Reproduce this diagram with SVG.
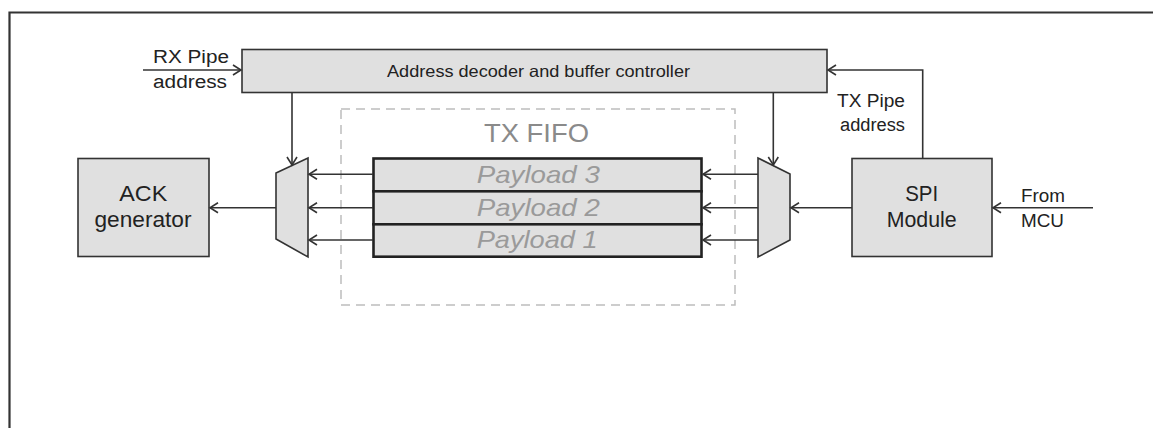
<svg xmlns="http://www.w3.org/2000/svg" width="1153" height="428" viewBox="0 0 1153 428">
<defs>
<style>
.box{fill:#e0e0e0;stroke:#333;stroke-width:1.6}
.pl{fill:#e0e0e0;stroke:#222;stroke-width:2.6}
.t{font-family:"Liberation Sans",Arial,sans-serif;fill:#222;text-anchor:middle}
.pt{font-family:"Liberation Sans",Arial,sans-serif;fill:#9a9a9a;font-style:italic;text-anchor:middle;font-size:24px}
.w{stroke:#333;stroke-width:1.6;fill:none}
</style>
<marker id="ah" markerUnits="userSpaceOnUse" markerWidth="14" markerHeight="14" refX="9" refY="6" orient="auto">
<path d="M1,1 L9,6 L1,11" fill="none" stroke="#333" stroke-width="1.6"/>
</marker>
</defs>
<rect width="1153" height="428" fill="#fff"/>
<g id="frame">
<path d="M9.5,428 V12.5 H1153" fill="none" stroke="#333" stroke-width="2.2"/>
</g>
<g id="tx-fifo">
<rect x="341" y="109" width="394" height="196" fill="none" stroke="#bdbdbd" stroke-width="1.5" stroke-dasharray="9,6"/>
<text class="t" x="536.5" y="141.7" font-size="25" fill="#8a8a8a" style="fill:#8a8a8a" textLength="105" lengthAdjust="spacingAndGlyphs">TX FIFO</text>
</g>
<g id="addr-decoder">
<rect class="box" x="242" y="49.5" width="585" height="43"/>
<text class="t" x="538.5" y="77" font-size="16.5" textLength="303" lengthAdjust="spacingAndGlyphs">Address decoder and buffer controller</text>
</g>
<g id="ack-generator">
<rect class="box" x="78" y="158.5" width="131" height="98"/>
<text class="t" x="143.3" y="201" font-size="22" textLength="48" lengthAdjust="spacingAndGlyphs">ACK</text>
<text class="t" x="143" y="226.5" font-size="22" textLength="97" lengthAdjust="spacingAndGlyphs">generator</text>
</g>
<g id="mux-left">
<polygon class="box" points="276,173 308,158 308,257 276,239"/>
</g>
<g id="mux-right">
<polygon class="box" points="758,158 790,174 790,240 758,257"/>
</g>
<g id="payload-3">
<rect class="pl" x="373.5" y="158.5" width="328" height="32.8"/>
<text class="pt" x="538.3" y="182.7" textLength="123" lengthAdjust="spacingAndGlyphs">Payload 3</text>
</g>
<g id="payload-2">
<rect class="pl" x="373.5" y="191.3" width="328" height="33"/>
<text class="pt" x="538.3" y="215.7" textLength="123" lengthAdjust="spacingAndGlyphs">Payload 2</text>
</g>
<g id="payload-1">
<rect class="pl" x="373.5" y="224.3" width="328" height="32.4"/>
<text class="pt" x="537.2" y="248.3" textLength="121" lengthAdjust="spacingAndGlyphs">Payload 1</text>
</g>
<g id="spi-module">
<rect class="box" x="852" y="158.5" width="140" height="98"/>
<text class="t" x="921.7" y="201" font-size="22" textLength="33" lengthAdjust="spacingAndGlyphs">SPI</text>
<text class="t" x="921.7" y="227" font-size="22" textLength="70" lengthAdjust="spacingAndGlyphs">Module</text>
</g>
<g id="labels">
<text class="t" x="191" y="63.3" font-size="18" textLength="76" lengthAdjust="spacingAndGlyphs">RX Pipe</text>
<text class="t" x="190" y="87.5" font-size="18" textLength="74" lengthAdjust="spacingAndGlyphs">address</text>
<text class="t" x="871" y="107.3" font-size="18" textLength="68" lengthAdjust="spacingAndGlyphs">TX Pipe</text>
<text class="t" x="872.5" y="131" font-size="18" textLength="65" lengthAdjust="spacingAndGlyphs">address</text>
<text class="t" x="1043" y="201.5" font-size="19" textLength="44" lengthAdjust="spacingAndGlyphs">From</text>
<text class="t" x="1042.5" y="227.3" font-size="19" textLength="43" lengthAdjust="spacingAndGlyphs">MCU</text>
</g>
<g id="connectors" class="w">
<line x1="143" y1="70" x2="241" y2="70" marker-end="url(#ah)"/>
<polyline points="922.7,158 922.7,70 828,70" marker-end="url(#ah)"/>
<line x1="292" y1="93" x2="292" y2="165" marker-end="url(#ah)"/>
<line x1="773.3" y1="93" x2="773.3" y2="165" marker-end="url(#ah)"/>
<line x1="276" y1="207.7" x2="210" y2="207.7" marker-end="url(#ah)"/>
<line x1="373" y1="174.3" x2="309" y2="174.3" marker-end="url(#ah)"/>
<line x1="373" y1="207.7" x2="309" y2="207.7" marker-end="url(#ah)"/>
<line x1="373" y1="240" x2="309" y2="240" marker-end="url(#ah)"/>
<line x1="758" y1="174.3" x2="703" y2="174.3" marker-end="url(#ah)"/>
<line x1="758" y1="207.7" x2="703" y2="207.7" marker-end="url(#ah)"/>
<line x1="758" y1="240" x2="703" y2="240" marker-end="url(#ah)"/>
<line x1="852" y1="207.7" x2="791" y2="207.7" marker-end="url(#ah)"/>
<line x1="1093" y1="207.7" x2="993" y2="207.7" marker-end="url(#ah)"/>
</g>
</svg>
